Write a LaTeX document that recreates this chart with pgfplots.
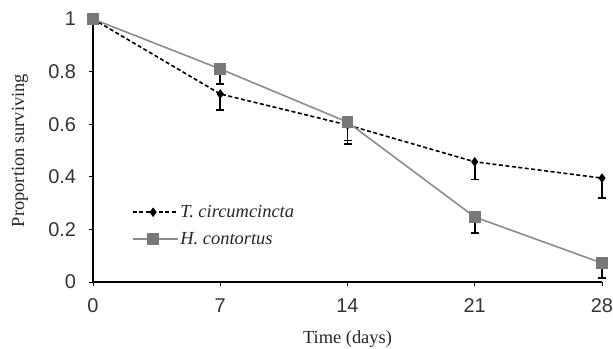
\documentclass[border=0pt]{standalone}
\usepackage{fontspec}
\setmainfont{Liberation Serif}
\newfontfamily\arial{Liberation Sans}
\usepackage{pgfplots}
\pgfplotsset{compat=1.18}
\definecolor{hline}{RGB}{140,140,140}
\definecolor{hmark}{RGB}{120,120,120}
\begin{document}
\begin{tikzpicture}
\useasboundingbox (-93bp,-67bp) rectangle (520bp,282bp);
\begin{axis}[
  scale only axis, width=509bp, height=263bp,
  xmin=0, xmax=28, ymin=0, ymax=1,
  axis lines*=left,
  axis line style={black, line width=1.2bp},
  xtick={0,7,14,21,28}, ytick={0,0.2,0.4,0.6,0.8,1},
  tick align=outside, major tick length=4bp,
  tick style={black, line width=0.8bp},
  /pgf/number format/assume math mode=true,
  /pgf/number format/fixed,
  ticklabel style={font=\arial\fontsize{20}{22}\selectfont, text=black!80},
  xticklabel style={yshift=-9bp},
  yticklabel style={xshift=-9.5bp},
  label style={font=\fontsize{18.5}{20}\selectfont, text=black!85},
  xlabel={Time (days)},
  ylabel={Proportion surviving},
  xlabel style={at={(axis description cs:0.5,-0.2167)}, anchor=center},
  ylabel style={at={(axis description cs:-0.1434,0.5)}, anchor=center},
  legend style={draw=none, fill=none, at={(axis description cs:0.07,0.215)}, anchor=west,
    font=\itshape\fontsize{18.5}{20}\selectfont, row sep=9bp, text=black!85},
  legend cell align=left,
  legend image code/.code={\path (0bp,0bp) -- (45bp,0bp); \draw[#1, mark repeat=2, mark phase=2] plot coordinates {(0bp,0bp) (20.5bp,0bp) (41bp,0bp)};},
  clip=false,
]
\addplot[black, line width=1.6bp, dash pattern=on 4bp off 2.5bp, mark=diamond*, mark size=3.5bp,
  mark options={solid, fill=black},
  error bars/.cd, y dir=minus, y explicit, error mark options={rotate=90, mark size=4bp, line width=1.6bp, black},
  error bar style={line width=1.6bp, black, solid}]
  coordinates {(0,1) +- (0,0) (7,0.715) +- (0,0.06) (14,0.597) +- (0,0.072) (21,0.457) +- (0,0.067) (28,0.395) +- (0,0.075)};
\addlegendentry{T. circumcincta}
\addplot[hline, line width=1.6bp, mark=square*, mark size=5bp,
  mark options={solid, fill=hmark, draw=hmark},
  error bars/.cd, y dir=minus, y explicit, error mark options={rotate=90, mark size=4bp, line width=1.6bp, black},
  error bar style={line width=1.6bp, black, solid}]
  coordinates {(0,1) +- (0,0) (7,0.81) +- (0,0.057) (14,0.608) +- (0,0.07) (21,0.247) +- (0,0.061) (28,0.072) +- (0,0.057)};
\addlegendentry{H. contortus}
\end{axis}
\end{tikzpicture}
\end{document}
